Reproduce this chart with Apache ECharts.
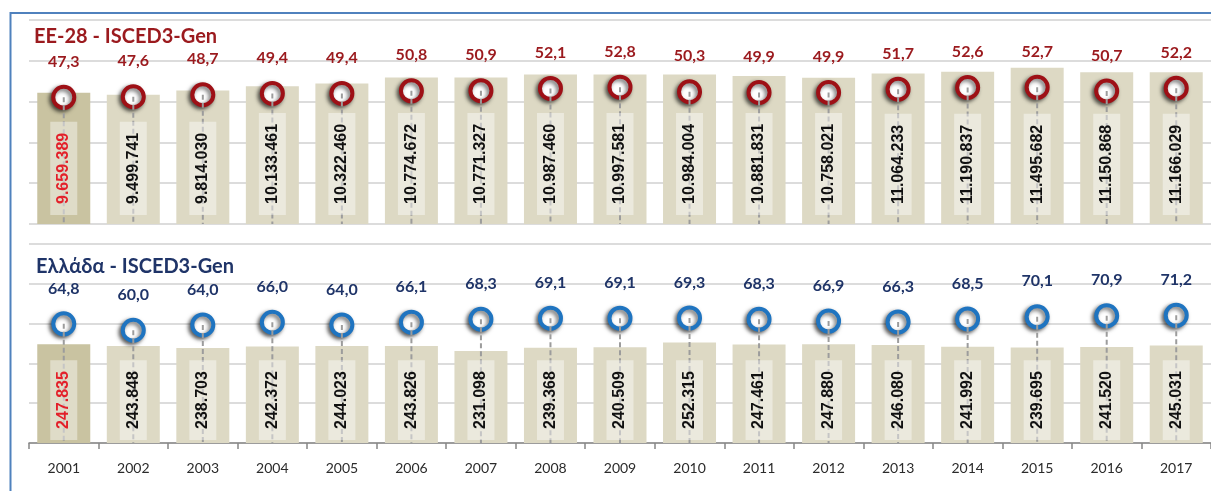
<!DOCTYPE html>
<html>
<head>
<meta charset="utf-8">
<script src="https://cdn.jsdelivr.net/npm/echarts@6/dist/echarts.min.js"></script>
<style>
  html, body { margin: 0; padding: 0; background: #fff; }
  #chart-container { width: 1211px; height: 491px; }
</style>
</head>
<body>
<div id="chart-container"></div>
<script>
var years = ["2001", "2002", "2003", "2004", "2005", "2006", "2007", "2008", "2009",
  "2010", "2011", "2012", "2013", "2014", "2015", "2016", "2017"];

// EE-28
var euStudents = [9659389, 9499741, 9814030, 10133461, 10322460, 10774672, 10771327, 10987460,
  10997581, 10984004, 10881831, 10758021, 11064233, 11190837, 11495682, 11150868, 11166029];
var euShare = [47.3, 47.6, 48.7, 49.4, 49.4, 50.8, 50.9, 52.1, 52.8, 50.3, 49.9, 49.9, 51.7,
  52.6, 52.7, 50.7, 52.2];

// Ελλάδα
var grStudents = [247835, 243848, 238703, 242372, 244023, 243826, 231098, 239368, 240509,
  252315, 247461, 247880, 246080, 241992, 239695, 241520, 245031];
var grShare = [64.8, 60.0, 64.0, 66.0, 64.0, 66.1, 68.3, 69.1, 69.1, 69.3, 68.3, 66.9, 66.3,
  68.5, 70.1, 70.9, 71.2];

var dom = document.getElementById("chart-container");
var myChart = echarts.init(dom, null, { renderer: "canvas" });

var RED = "#9b1a1e";
var NAVY = "#1f3468";
var BLUE = "#1f74c0";

function fmtThousands(v) {
  return String(v).replace(/\B(?=(\d{3})+(?!\d))/g, ".");
}
function fmtPct(v) {
  return v.toFixed(1).replace(".", ",");
}

function barFill(values) {
  return values.map(function (v, i) {
    return { value: v, itemStyle: { color: i === 0 ? "#c9c3a1" : "#ddd9c4" } };
  });
}
function barLabels(values) {
  return values.map(function (v, i) {
    return { value: v, label: { color: i === 0 ? "#e3202a" : "#111" } };
  });
}

function dropLine(params, api) {
  var p = api.coord([api.value(0), api.value(1)]);
  var base = params.coordSys.y + params.coordSys.height;
  return {
    type: "line",
    shape: { x1: p[0], y1: p[1], x2: p[0], y2: base },
    style: { stroke: "#9c9c9c", lineWidth: 2, lineDash: [5, 3] }
  };
}

function panelSeries(students, share, xi, yBar, yPct, ringColor, pctColor, labelDist) {
  return [
    {
      type: "bar",
      xAxisIndex: xi,
      yAxisIndex: yBar,
      barWidth: 53,
      z: 2,
      data: barFill(students),
      silent: true
    },
    {
      type: "line",
      xAxisIndex: xi,
      yAxisIndex: yPct,
      z: 3,
      data: share,
      symbol: "circle",
      symbolSize: 21,
      lineStyle: { opacity: 0 },
      itemStyle: {
        color: "#fff",
        borderColor: ringColor,
        borderWidth: 4,
        shadowColor: "rgba(0,0,0,0.6)",
        shadowBlur: 4,
        shadowOffsetX: -2,
        shadowOffsetY: 2
      },
      label: {
        show: true,
        position: "top",
        distance: 15,
        color: pctColor,
        fontFamily: "Lato",
        fontWeight: "bold",
        fontSize: 16,
        formatter: function (p) { return fmtPct(p.value); }
      }
    },
    {
      type: "custom",
      xAxisIndex: xi,
      yAxisIndex: yPct,
      z: 4,
      renderItem: dropLine,
      data: share.map(function (v, i) { return [i, v]; }),
      silent: true
    },
    {
      type: "bar",
      xAxisIndex: xi,
      yAxisIndex: yBar,
      barWidth: 53,
      barGap: "-100%",
      z: 5,
      itemStyle: { color: "rgba(0,0,0,0)" },
      data: barLabels(students),
      label: {
        show: true,
        position: "insideBottom",
        distance: labelDist,
        rotate: 90,
        align: "left",
        verticalAlign: "middle",
        fontFamily: "Liberation Sans",
        fontWeight: "bold",
        fontSize: 16,
        backgroundColor: "rgba(255,255,255,0.42)",
        padding: [6, 11, 5, 11],
        formatter: function (p) { return fmtThousands(p.value); }
      },
      silent: true
    }
  ];
}

var gridLine = { show: true, lineStyle: { color: "#dcdcdc", width: 2 } };

var option = {
  animation: false,
  title: [
    {
      text: "EE-28 - ISCED3-Gen",
      left: 34,
      top: 27,
      padding: 0,
      textStyle: { color: RED, fontFamily: "Lato", fontWeight: "bold", fontSize: 20 }
    },
    {
      text: "Ελλάδα - ISCED3-Gen",
      left: 36,
      top: 257,
      padding: 0,
      textStyle: { color: NAVY, fontFamily: "Lato", fontWeight: "bold", fontSize: 20 }
    }
  ],
  graphic: [
    {
      type: "polyline",
      silent: true,
      shape: { points: [[10.5, 495], [10.5, 13], [1215, 13]] },
      style: { stroke: "#4f81bd", lineWidth: 2, fill: null }
    }
  ],
  grid: [
    { left: 29, top: 20, width: 1188, height: 204 },
    { left: 29, top: 244, width: 1188, height: 199 }
  ],
  xAxis: [
    {
      type: "category",
      gridIndex: 0,
      data: years,
      axisLine: { show: false },
      axisTick: { show: false },
      axisLabel: { show: false }
    },
    {
      type: "category",
      gridIndex: 1,
      data: years,
      axisLine: { lineStyle: { color: "#868686", width: 1.5 } },
      axisTick: { show: true, length: 6, lineStyle: { color: "#868686", width: 1.5 } },
      axisLabel: { color: "#2b2b2b", fontFamily: "Lato", fontSize: 14, margin: 18 }
    }
  ],
  yAxis: [
    {
      type: "value",
      gridIndex: 0,
      min: 0,
      max: 15000000,
      interval: 3000000,
      axisLabel: { show: false },
      axisLine: { show: false },
      axisTick: { show: false },
      splitLine: gridLine
    },
    {
      type: "value",
      gridIndex: 0,
      min: -21,
      max: 89,
      show: false,
      splitLine: { show: false }
    },
    {
      type: "value",
      gridIndex: 1,
      min: 0,
      max: 500000,
      interval: 100000,
      axisLabel: { show: false },
      axisLine: { show: false },
      axisTick: { show: false },
      splitLine: gridLine
    },
    {
      type: "value",
      gridIndex: 1,
      min: -25,
      max: 125,
      show: false,
      splitLine: { show: false }
    }
  ],
  series: []
    .concat(panelSeries(euStudents, euShare, 0, 0, 1, "#9e1016", RED, 9))
    .concat(panelSeries(grStudents, grShare, 1, 2, 3, BLUE, NAVY, 3))
};

myChart.setOption(option);
window.addEventListener("resize", myChart.resize);
</script>
</body>
</html>
